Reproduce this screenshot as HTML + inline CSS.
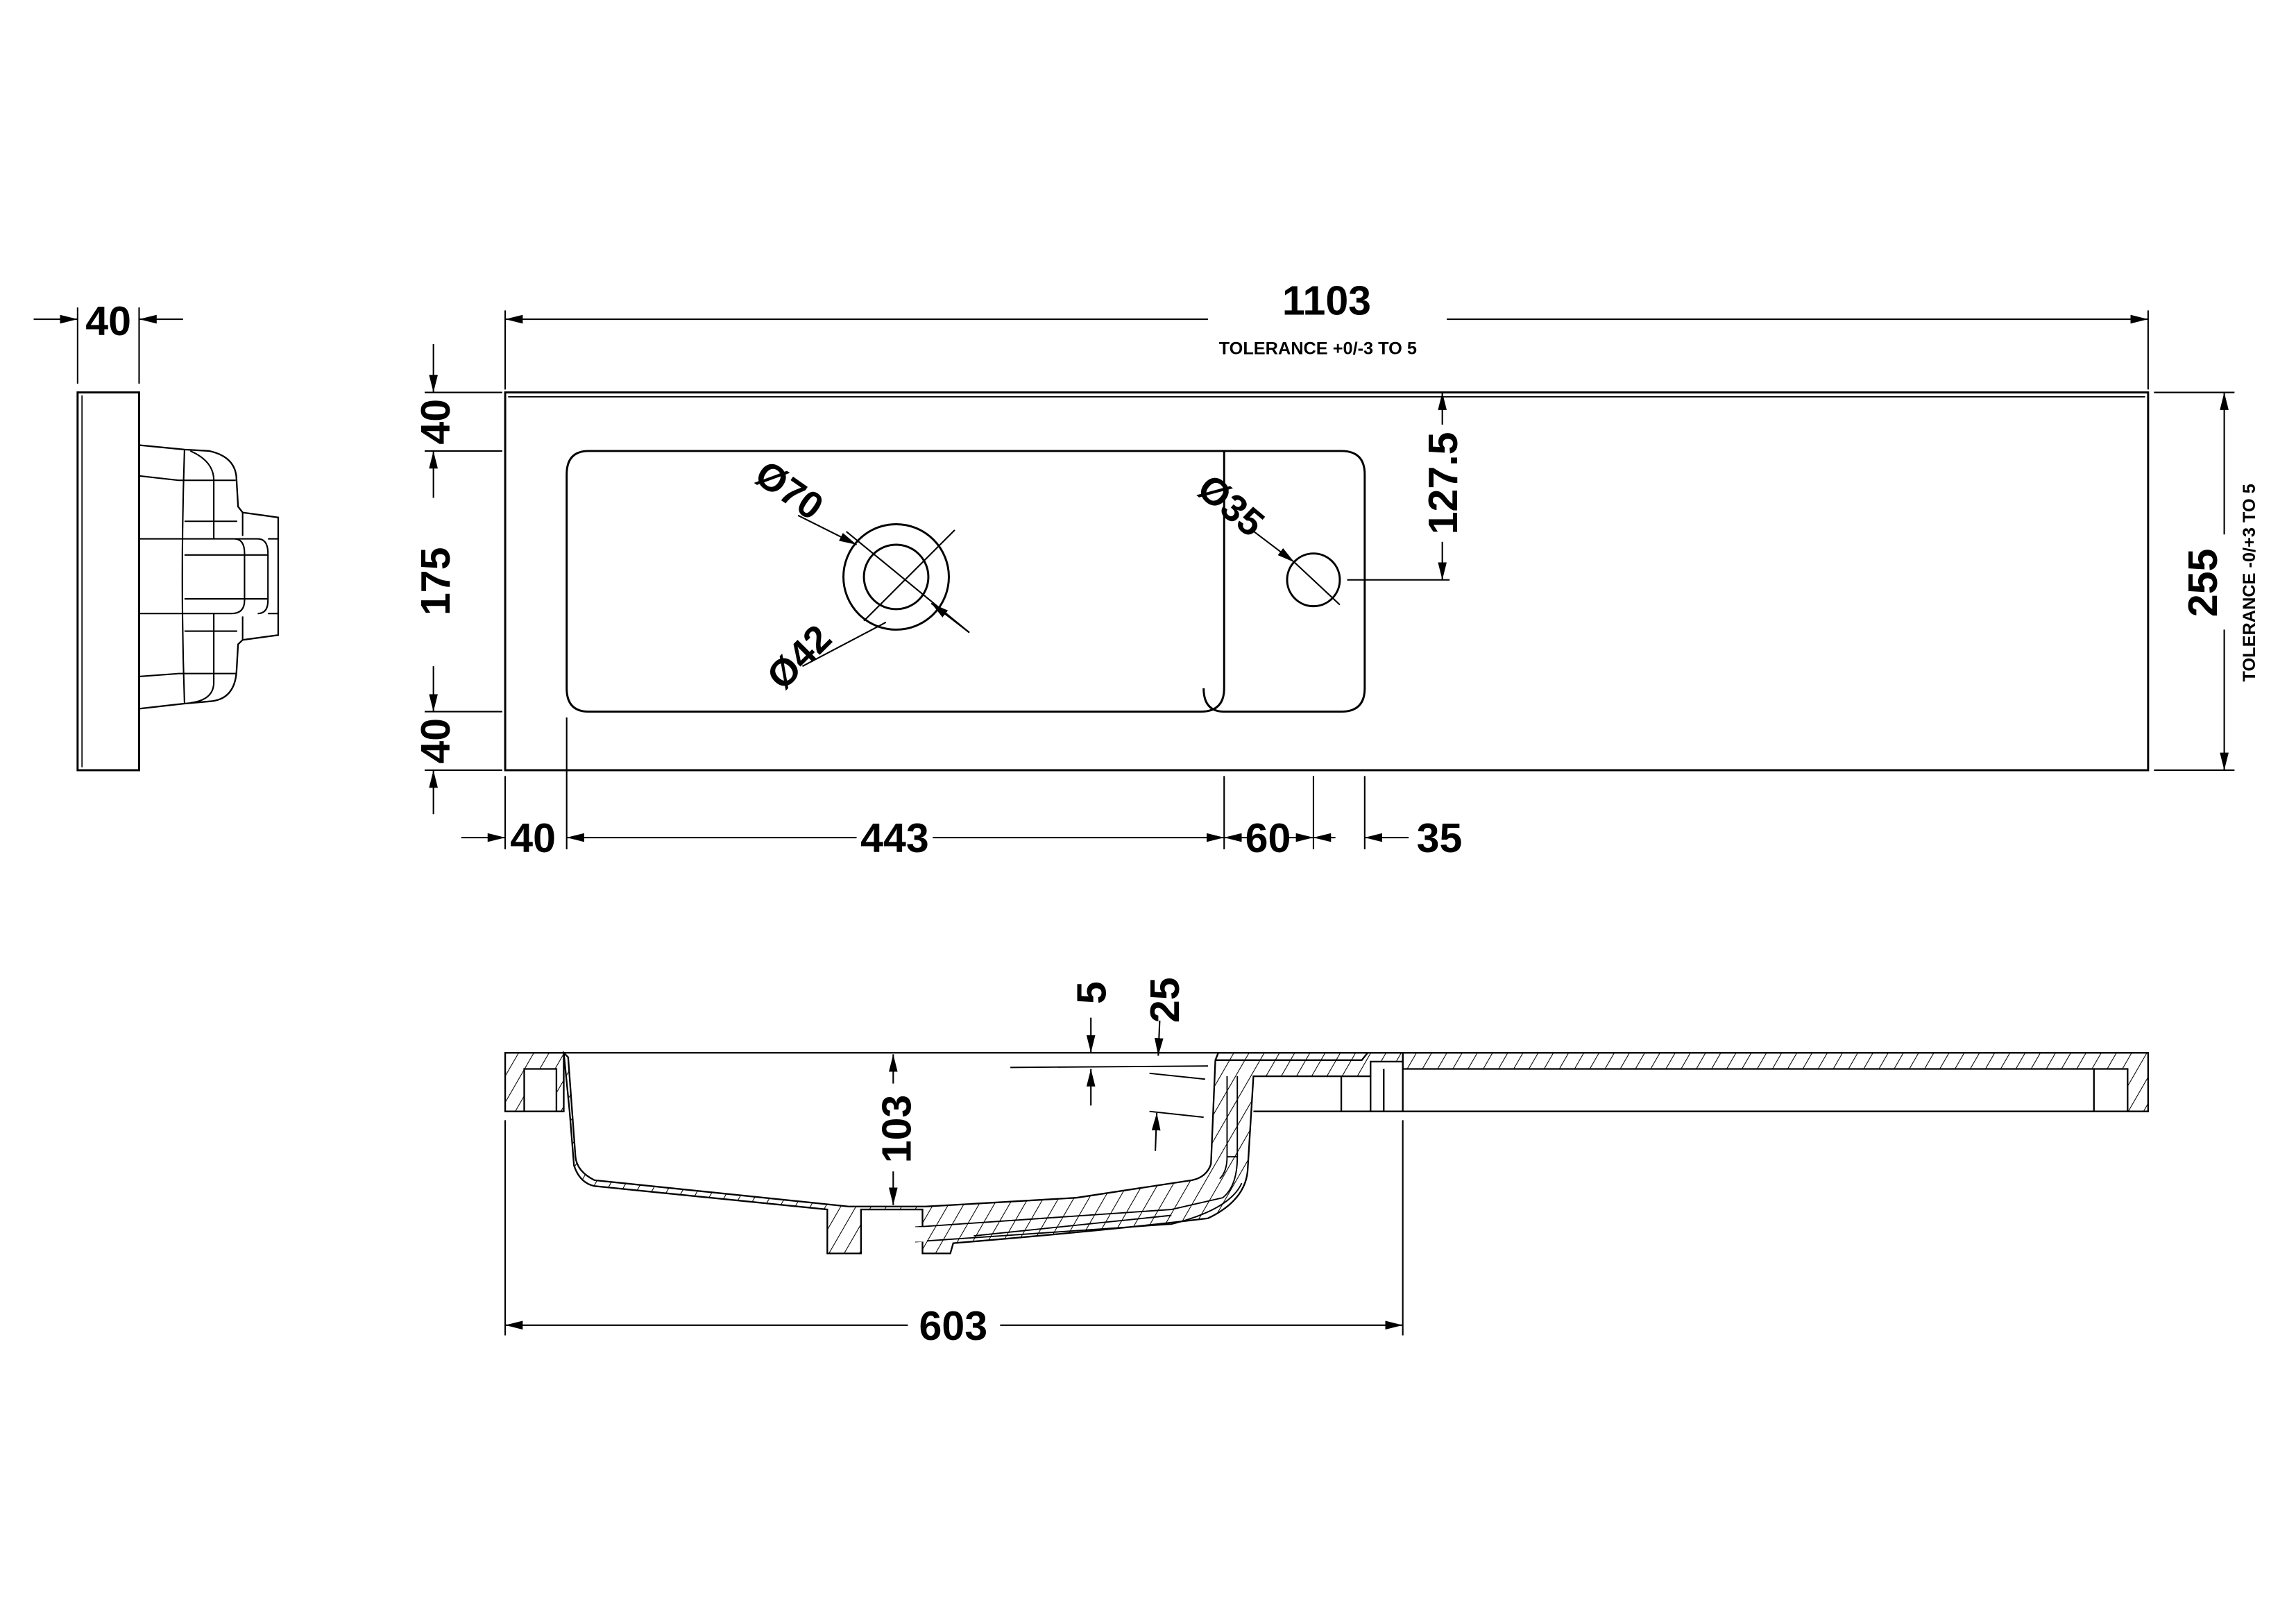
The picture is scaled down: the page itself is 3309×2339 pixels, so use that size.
<!DOCTYPE html>
<html><head><style>
html,body{margin:0;padding:0;background:#fff;}
svg{display:block;}
text{font-family:"Liberation Sans",sans-serif;font-weight:bold;fill:#000;}
</style></head><body>
<svg width="3309" height="2339" viewBox="0 0 1568 1108.4" preserveAspectRatio="none" xmlns="http://www.w3.org/2000/svg">
<defs>
<marker id="a" viewBox="0 0 12 6" refX="12" refY="3" markerWidth="12" markerHeight="6" markerUnits="userSpaceOnUse" orient="auto"><path d="M0,0 L12,3 L0,6 z" fill="#000"/></marker>
<pattern id="h" patternUnits="userSpaceOnUse" width="9" height="9" patternTransform="rotate(30)"><line x1="0" y1="0" x2="0" y2="9" stroke="#000" stroke-width="1"/></pattern>
</defs>
<g fill="none" stroke="#000" stroke-width="1.4">
<!-- SIDE VIEW -->
<rect x="53" y="268" width="42" height="258"/>
<line x1="56" y1="270" x2="56" y2="524" stroke-width="0.8"/>
<line x1="53" y1="210" x2="53" y2="262" stroke-width="1"/>
<line x1="95" y1="210" x2="95" y2="262" stroke-width="1"/>
<line x1="23" y1="218" x2="53" y2="218" marker-end="url(#a)" stroke-width="1"/>
<line x1="125" y1="218" x2="95" y2="218" marker-end="url(#a)" stroke-width="1"/>
<path d="M95,304 L126,307 L143,308 Q161,312 161.5,327 L162.6,346 L165.7,350 L190,353.4 L190,433.7 L165.7,437 L162.6,440 L161.5,459 Q160,478 143,479 L126,480.5 L95,484" stroke-width="1.1"/>
<path d="M95,325 L122,328 L146,328 L161,328 M126,307 Q123,395 126,480 M130,308 Q146,315 146,328 L146,368 M146,419 L146,466 Q146,478 130,480 M126,356 L162,356 M95,368 L160,368 Q167,368 167,378 L167,410 Q167,419 158,419 L95,419 M126,379 L183,379 M126,409 L183,409 M160,368 L176,368 Q183,368 183,378 L183,410 Q183,419 176,419 M126,431 L162,431 M95,462 L122,460 L146,460 L161,460 M165.7,350 L165.7,366 M165.7,421 L165.7,437 M190,368 L183,368 M190,419 L183,419" stroke-width="1"/>

<!-- TOP VIEW -->
<rect x="345" y="268" width="1122" height="258"/>
<line x1="347" y1="271" x2="1465" y2="271" stroke-width="0.8"/>
<path d="M836,308 L836,470 Q836,486 820,486 L402,486 Q387,486 387,470 L387,324 Q387,308 402,308 Z"/>
<path d="M836,308 L916,308 Q932,308 932,324 L932,470 Q932,486 916,486 L836,486 Q822,486 822,470"/>
<circle cx="612" cy="394" r="36"/>
<circle cx="612" cy="394" r="22"/>
<circle cx="897" cy="396" r="18"/>
<line x1="578" y1="363" x2="662" y2="432" stroke-width="1"/>
<line x1="652" y1="362" x2="590" y2="424" stroke-width="1"/>
<line x1="545" y1="352" x2="585" y2="372" marker-end="url(#a)" stroke-width="1"/>
<line x1="548" y1="455" x2="605" y2="425" stroke-width="1"/>
<line x1="662" y1="432" x2="636" y2="412" marker-end="url(#a)" stroke-width="1"/>
<line x1="855" y1="362" x2="884" y2="384" marker-end="url(#a)" stroke-width="1"/>
<line x1="884" y1="384" x2="915" y2="413" stroke-width="1"/>
<!-- 1103 -->
<line x1="345" y1="212" x2="345" y2="266" stroke-width="1"/>
<line x1="1467" y1="212" x2="1467" y2="266" stroke-width="1"/>
<line x1="825" y1="218" x2="345" y2="218" marker-end="url(#a)" stroke-width="1"/>
<line x1="988" y1="218" x2="1467" y2="218" marker-end="url(#a)" stroke-width="1"/>
<!-- 255 -->
<line x1="1471" y1="268" x2="1526" y2="268" stroke-width="1"/>
<line x1="1471" y1="526" x2="1526" y2="526" stroke-width="1"/>
<line x1="1519" y1="365" x2="1519" y2="268" marker-end="url(#a)" stroke-width="1"/>
<line x1="1519" y1="430" x2="1519" y2="526" marker-end="url(#a)" stroke-width="1"/>
<!-- 127.5 -->
<line x1="920" y1="396" x2="990" y2="396" stroke-width="1"/>
<line x1="985" y1="290" x2="985" y2="268" marker-end="url(#a)" stroke-width="1"/>
<line x1="985" y1="370" x2="985" y2="396" marker-end="url(#a)" stroke-width="1"/>
<!-- left dims -->
<line x1="290" y1="268" x2="343" y2="268" stroke-width="1"/>
<line x1="290" y1="308" x2="343" y2="308" stroke-width="1"/>
<line x1="290" y1="486" x2="343" y2="486" stroke-width="1"/>
<line x1="290" y1="526" x2="343" y2="526" stroke-width="1"/>
<line x1="296" y1="235" x2="296" y2="268" marker-end="url(#a)" stroke-width="1"/>
<line x1="296" y1="340" x2="296" y2="308" marker-end="url(#a)" stroke-width="1"/>
<line x1="296" y1="455" x2="296" y2="486" marker-end="url(#a)" stroke-width="1"/>
<line x1="296" y1="556" x2="296" y2="526" marker-end="url(#a)" stroke-width="1"/>
<!-- bottom dims -->
<line x1="345" y1="530" x2="345" y2="580" stroke-width="1"/>
<line x1="387" y1="490" x2="387" y2="580" stroke-width="1"/>
<line x1="836" y1="530" x2="836" y2="580" stroke-width="1"/>
<line x1="897" y1="530" x2="897" y2="580" stroke-width="1"/>
<line x1="932" y1="530" x2="932" y2="580" stroke-width="1"/>
<line x1="315" y1="572" x2="345" y2="572" marker-end="url(#a)" stroke-width="1"/>
<line x1="585" y1="572" x2="387" y2="572" marker-end="url(#a)" stroke-width="1"/>
<line x1="637" y1="572" x2="836" y2="572" marker-end="url(#a)" stroke-width="1"/>
<line x1="855" y1="572" x2="836" y2="572" marker-end="url(#a)" stroke-width="1"/>
<line x1="880" y1="572" x2="897" y2="572" marker-end="url(#a)" stroke-width="1"/>
<line x1="912" y1="572" x2="897" y2="572" marker-end="url(#a)" stroke-width="1"/>
<line x1="962" y1="572" x2="932" y2="572" marker-end="url(#a)" stroke-width="1"/>

<!-- SECTION VIEW -->
<g stroke-width="1.1">
<path d="M345,719 L385,719 L385,759 L380,759 L380,730 L358,730 L358,759 L345,759 Z" fill="url(#h)"/>
<path d="M385,719 L389,759 L392,796 Q396,808 406,810 L565,826 L565,856 L588,856 L588,826 L630,826 L630,856 L649,856 L651,849 Q760,840 825,832 Q850,820 852,800 L856,735 L936,735 L936,725 L958,725 L958,730 L958,719 L832,719 L830,724 L827,795 Q824,804 814,806 L735,818 L632,824 L580,824 L406,806 Q394,800 393,790 L388,722 Z" fill="url(#h)"/>
<path d="M958,719 L1467,719 L1467,759 L1453,759 L1453,730 L958,730 Z" fill="url(#h)"/>
<path d="M345,719 L1467,719 M345,759 L385,759 M958,759 L1467,759 M856,759 L958,759 M916,735 L916,759 M936,735 L936,759 M945,730 L945,759 M958,730 L958,759 M1430,730 L1430,759"/>
<path d="M830,724 L930,724 L934,719" fill="none"/>
<path d="M838,735 L838,790 Q838,800 833,805 M845,735 L845,790 Q845,810 835,818 L800,826 L625,838 M625,848 L800,836 Q840,826 848,808 M665,844 L800,830" fill="none" stroke-width="0.9"/>
<rect x="625" y="838" width="8" height="10" fill="#fff" stroke="none"/>
<line x1="838" y1="790" x2="845" y2="790" stroke-width="0.9"/>
</g>
<line x1="690" y1="729" x2="825" y2="728" stroke-width="0.9"/>
<line x1="785" y1="733" x2="823" y2="737" stroke-width="0.9"/>
<line x1="785" y1="759" x2="822" y2="763" stroke-width="0.9"/>
<!-- 603 -->
<line x1="345" y1="765" x2="345" y2="912" stroke-width="1"/>
<line x1="958" y1="765" x2="958" y2="912" stroke-width="1"/>
<line x1="620" y1="905" x2="345" y2="905" marker-end="url(#a)" stroke-width="1"/>
<line x1="683" y1="905" x2="958" y2="905" marker-end="url(#a)" stroke-width="1"/>
<!-- 103 -->
<line x1="610" y1="740" x2="610" y2="720" marker-end="url(#a)" stroke-width="1"/>
<line x1="610" y1="800" x2="610" y2="823" marker-end="url(#a)" stroke-width="1"/>
<!-- 5 -->
<line x1="745" y1="695" x2="745" y2="719" marker-end="url(#a)" stroke-width="1"/>
<line x1="745" y1="755" x2="745" y2="730" marker-end="url(#a)" stroke-width="1"/>
<!-- 25 -->
<line x1="792" y1="697" x2="791" y2="721" marker-end="url(#a)" stroke-width="1"/>
<line x1="789" y1="786" x2="790" y2="760" marker-end="url(#a)" stroke-width="1"/>
</g>

<!-- TEXT -->
<text x="74" y="229" font-size="28" text-anchor="middle">40</text>
<text x="906" y="215" font-size="28" text-anchor="middle">1103</text>
<text x="900" y="242" font-size="12" text-anchor="middle">TOLERANCE +0/-3 TO 5</text>
<text transform="translate(1514,398) rotate(-90)" font-size="28" text-anchor="middle">255</text>
<text transform="translate(1540,398) rotate(-90)" font-size="12" text-anchor="middle">TOLERANCE -0/+3 TO 5</text>
<text transform="translate(995,330) rotate(-90)" font-size="28" text-anchor="middle">127.5</text>
<text transform="translate(307,288) rotate(-90)" font-size="28" text-anchor="middle">40</text>
<text transform="translate(307,397) rotate(-90)" font-size="28" text-anchor="middle">175</text>
<text transform="translate(307,506) rotate(-90)" font-size="28" text-anchor="middle">40</text>
<text x="364" y="582" font-size="28" text-anchor="middle">40</text>
<text x="611" y="582" font-size="28" text-anchor="middle">443</text>
<text x="866" y="582" font-size="28" text-anchor="middle">60</text>
<text x="983" y="582" font-size="28" text-anchor="middle">35</text>
<text transform="translate(534,342) rotate(35)" font-size="26" text-anchor="middle">Ø70</text>
<text transform="translate(552,455) rotate(-45)" font-size="26" text-anchor="middle">Ø42</text>
<text transform="translate(835,352) rotate(40)" font-size="26" text-anchor="middle">Ø35</text>
<text transform="translate(622,771) rotate(-90)" font-size="28" text-anchor="middle">103</text>
<text transform="translate(755,678) rotate(-90)" font-size="28" text-anchor="middle">5</text>
<text transform="translate(805,683) rotate(-90)" font-size="28" text-anchor="middle">25</text>
<text x="651" y="915" font-size="28" text-anchor="middle">603</text>
</svg>
</body></html>
